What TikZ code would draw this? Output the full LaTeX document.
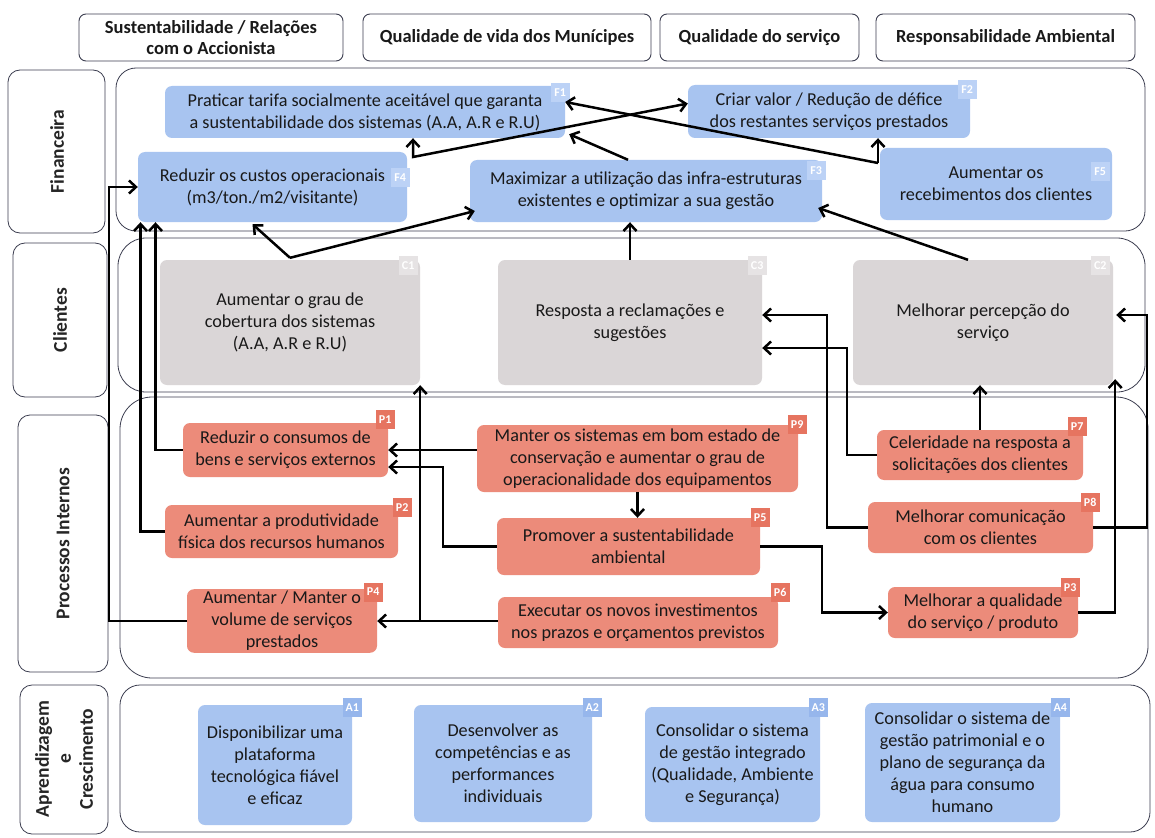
\documentclass[tikz,border=0pt]{standalone}
\usepackage{fontspec}
\setmainfont{Carlito}
\usetikzlibrary{arrows.meta,calc}
\definecolor{finblue}{RGB}{168,196,240}
\definecolor{cligray}{RGB}{218,214,215}
\definecolor{procsal}{RGB}{236,139,122}
\definecolor{lanec}{RGB}{60,62,80}
\definecolor{tagblue}{RGB}{188,210,246}
\definecolor{tagsal}{RGB}{230,116,96}
\definecolor{taggray}{RGB}{230,227,228}
\definecolor{tagA}{RGB}{150,182,236}
\begin{document}
\begin{tikzpicture}[x=1pt,y=-1pt,
 every node/.style={inner sep=2pt},
 box/.style={rounded corners=7pt, align=center, font=\fontsize{18.2}{22}\selectfont, inner sep=2pt, text=black!90},
 fin/.style={box, fill=finblue},
 cli/.style={box, fill=cligray},
 proc/.style={box, fill=procsal},
 hdr/.style={draw=lanec, line width=0.9pt, rounded corners=7pt, align=center, font=\bfseries\fontsize{18.5}{21}\selectfont, text=black!90},
 lanelab/.style={draw=lanec, line width=0.8pt, rounded corners=12pt},
 lanetxt/.style={rotate=90, align=center, font=\bfseries\fontsize{19.5}{22}\selectfont, text=black!85},
 lane/.style={draw=lanec, line width=0.8pt},
 tag/.style={minimum size=19pt, inner sep=0pt, font=\bfseries\fontsize{12}{12}\selectfont, text=white},
 arr/.style={line width=2.5pt, -{Straight Barb[length=7pt,width=13pt]}},
 arrb/.style={line width=2.5pt, {Straight Barb[length=7pt,width=13pt]}-{Straight Barb[length=7pt,width=13pt]}},
]
\useasboundingbox (0,0) rectangle (1155,837);
\fill[white] (0,0) rectangle (1155,837);

% lanes
\draw[lane, rounded corners=20pt] (116,68) rectangle (1145,231);
\draw[lane, rounded corners=28pt] (118,238) rectangle (1145,392);
\draw[lane, rounded corners=32pt] (120,397) rectangle (1148,678);
\draw[lane, rounded corners=20pt] (120,685) rectangle (1150,832);

% lane labels
\draw[lanelab] (8,70) rectangle (105,233);
\node[lanetxt] (Lfin) at (57,151.5) {Financeira};
\draw[lanelab] (13,243) rectangle (107,397);
\node[lanetxt] (Lcli) at (60,320) {Clientes};
\draw[lanelab] (18,415) rectangle (108,672);
\node[lanetxt] (Lproc) at (63,543.5) {Processos Internos};
\draw[lanelab] (20,685) rectangle (108,834);
\node[lanetxt] (Lapr) at (64,759) {Aprendizagem\\e\\Crescimento};

% headers
\node[hdr, minimum width=264pt, minimum height=47pt] (H1) at (211,37.5) {Sustentabilidade / Relações\\com o Accionista};
\node[hdr, minimum width=288pt, minimum height=47pt] (H2) at (507,37.5) {Qualidade de vida dos Munícipes};
\node[hdr, minimum width=199pt, minimum height=47pt] (H3) at (759.5,37.5) {Qualidade do serviço};
\node[hdr, minimum width=259pt, minimum height=47pt] (H4) at (1005.5,37.5) {Responsabilidade Ambiental};

% financial
\node[fin, minimum width=400pt, minimum height=52pt] (F1) at (365,112) {Praticar tarifa socialmente aceitável que garanta\\a sustentabilidade dos sistemas (A.A, A.R e R.U)};
\node[fin, minimum width=282pt, minimum height=53pt] (F2) at (829,111.5) {Criar valor / Redução de défice\\dos restantes serviços prestados};
\node[fin, minimum width=269pt, minimum height=70pt] (F4) at (272.5,187) {Reduzir os custos operacionais\\(m3/ton./m2/visitante)};
\node[fin, minimum width=352pt, minimum height=62pt] (F3) at (646,191) {Maximizar a utilização das infra-estruturas\\existentes e optimizar a sua gestão};
\node[fin, minimum width=232pt, minimum height=72pt] (F5) at (996,184) {Aumentar os\\recebimentos dos clientes};
\node[tag, fill=tagblue] (tF1) at ([xshift=-5pt,yshift=-7pt]F1.north east) {F1};
\node[tag, fill=tagblue] (tF2) at ([xshift=-3pt,yshift=-5pt]F2.north east) {F2};
\node[tag, fill=tagblue] (tF4) at ([xshift=-7pt,yshift=-26pt]F4.north east) {F4};
\node[tag, fill=tagblue] (tF3) at ([xshift=-6pt,yshift=-11pt]F3.north east) {F3};
\node[tag, fill=tagblue] (tF5) at ([xshift=-12pt,yshift=-24pt]F5.north east) {F5};

% clients
\node[cli, minimum width=260pt, minimum height=125pt] (C1) at (290,322.5) {Aumentar o grau de\\cobertura dos sistemas\\(A.A, A.R e R.U)};
\node[cli, minimum width=264pt, minimum height=125pt] (C3) at (630,322.5) {Resposta a reclamações e\\sugestões};
\node[cli, minimum width=260pt, minimum height=125pt] (C2) at (983,322.5) {Melhorar percepção do\\serviço};
\node[tag, fill=taggray] (tC1) at ([xshift=-12pt,yshift=-6pt]C1.north east) {C1};
\node[tag, fill=taggray] (tC3) at ([xshift=-5pt,yshift=-6pt]C3.north east) {C3};
\node[tag, fill=taggray] (tC2) at ([xshift=-13pt,yshift=-6pt]C2.north east) {C2};

% processes
\node[proc, minimum width=205pt, minimum height=54pt] (P1) at (285.5,450) {Reduzir o consumos de\\bens e serviços externos};
\node[proc, minimum width=233pt, minimum height=53pt] (P2) at (281.5,531.5) {Aumentar a produtividade\\física dos recursos humanos};
\node[proc, minimum width=190pt, minimum height=62pt] (P4) at (282,621) {Aumentar / Manter o\\volume de serviços\\prestados};
\node[proc, minimum width=321pt, minimum height=67pt] (P9) at (637.5,458.5) {Manter os sistemas em bom estado de\\conservação e aumentar o grau de\\operacionalidade dos equipamentos};
\node[proc, minimum width=263pt, minimum height=57pt] (P5) at (628.5,546.5) {Promover a sustentabilidade\\ambiental};
\node[proc, minimum width=280pt, minimum height=51pt] (P6) at (638,622.5) {Executar os novos investimentos\\nos prazos e orçamentos previstos};
\node[proc, minimum width=206pt, minimum height=50pt] (P7) at (980,455) {Celeridade na resposta a\\solicitações dos clientes};
\node[proc, minimum width=225pt, minimum height=51pt] (P8) at (980.5,527.5) {Melhorar comunicação\\com os clientes};
\node[proc, minimum width=190pt, minimum height=51pt] (P3) at (983,612.5) {Melhorar a qualidade\\do serviço / produto};
\node[tag, fill=tagsal] (tP1) at ([xshift=-3pt,yshift=3pt]P1.north east) {P1};
\node[tag, fill=tagsal] (tP2) at ([xshift=4pt,yshift=-3pt]P2.north east) {P2};
\node[tag, fill=tagsal] (tP4) at ([xshift=-4pt,yshift=-3pt]P4.north east) {P4};
\node[tag, fill=tagsal] (tP9) at ([xshift=-1pt,yshift=0pt]P9.north east) {P9};
\node[tag, fill=tagsal] (tP5) at ([xshift=0pt,yshift=0pt]P5.north east) {P5};
\node[tag, fill=tagsal] (tP6) at ([xshift=2pt,yshift=4pt]P6.north east) {P6};
\node[tag, fill=tagsal] (tP7) at ([xshift=-6pt,yshift=3pt]P7.north east) {P7};
\node[tag, fill=tagsal] (tP8) at ([xshift=-3pt,yshift=-1pt]P8.north east) {P8};
\node[tag, fill=tagsal] (tP3) at ([xshift=-8pt,yshift=-1pt]P3.north east) {P3};

% learning
\node[fin, minimum width=154pt, minimum height=120pt] (A1) at (275,765) {Disponibilizar uma\\plataforma\\tecnológica fiável\\e eficaz};
\node[fin, minimum width=178pt, minimum height=117pt] (A2) at (503,763.5) {Desenvolver as\\competências e as\\performances\\individuais};
\node[fin, minimum width=175pt, minimum height=115pt] (A3) at (732.5,764.5) {Consolidar o sistema\\de gestão integrado\\(Qualidade, Ambiente\\e Segurança)};
\node[fin, minimum width=195pt, minimum height=119pt] (A4) at (962.5,762.5) {Consolidar o sistema de\\gestão patrimonial e o\\plano de segurança da\\água para consumo\\humano};
\node[tag, fill=tagA] (tA1) at ([xshift=0pt,yshift=-3pt]A1.north east) {A1};
\node[tag, fill=tagA] (tA2) at ([xshift=0pt,yshift=-3pt]A2.north east) {A2};
\node[tag, fill=tagA] (tA3) at ([xshift=-2pt,yshift=-1pt]A3.north east) {A3};
\node[tag, fill=tagA] (tA4) at ([xshift=0pt,yshift=-5pt]A4.north east) {A4};

% junction coordinates
\coordinate (J1) at (413,157);
\coordinate (J2) at (878,163);
\coordinate (J3) at ([yshift=2pt]C1.north);
\coordinate (J4) at (C1.east |- P4.east);

% financial connectors
\draw[arrb] (J1 |- F1.south) -- (J1) -- ([yshift=8pt]F2.west);
\draw[arr] (J2) -- (J2 |- F2.south);
\draw[arr] (J2) -- ([yshift=10pt]F1.east);
\draw[arr] ([xshift=-18pt]F3.north) -- ([xshift=4pt,yshift=4pt]F1.south east);
\draw[arr] (J3) -- ([xshift=-20pt,yshift=-2pt]F4.south);
\draw[arr] (J3) -- ([xshift=5pt,yshift=-20pt]F3.west);
\draw[arr] (C3.north) -- (C3.north |- F3.south);
\draw[arr] ([xshift=-15pt]C2.north) -- ([xshift=-4pt,yshift=-17pt]F3.east);

% process to financial
\draw[arr] (P4.west) -- (P4.west -| 109,0) |- (F4.west);
\draw[arr] (P2.west) -| ([xshift=-132pt]F4.south);
\draw[arr] (P1.west) -| ([xshift=-117pt]F4.south);

% process internal
\draw[arr] (P9.west |- P1.east) -- (P1.east);
\draw[arr] (P5.west) -| (443,467) -- ([yshift=-17pt]P1.east);
\draw[arr] (P6.west |- P4.east) -- (P4.east);
\draw[arr] (J4) -- (C1.south east);
\draw[arr] (P9.south) -- (P9.south |- P5.north);
\draw[arr] (P5.east) -- (P5.east -| 822,0) |- (P3.west);

% process to clients
\draw[arr] (P7.north) -- (P7.north |- C2.south);
\draw[arr] (P7.west) -| (847,348) -- ([yshift=-25.5pt]C3.east);
\draw[arr] (P8.west) -| (827,315) -- ([yshift=7.5pt]C3.east);
\draw[arr] (P8.east) -| (1147,315) -- ([xshift=3pt,yshift=7.5pt]C2.east);
\draw[arr] (P3.east) -| ([xshift=2pt,yshift=6pt]C2.south east);
\end{tikzpicture}
\end{document}
